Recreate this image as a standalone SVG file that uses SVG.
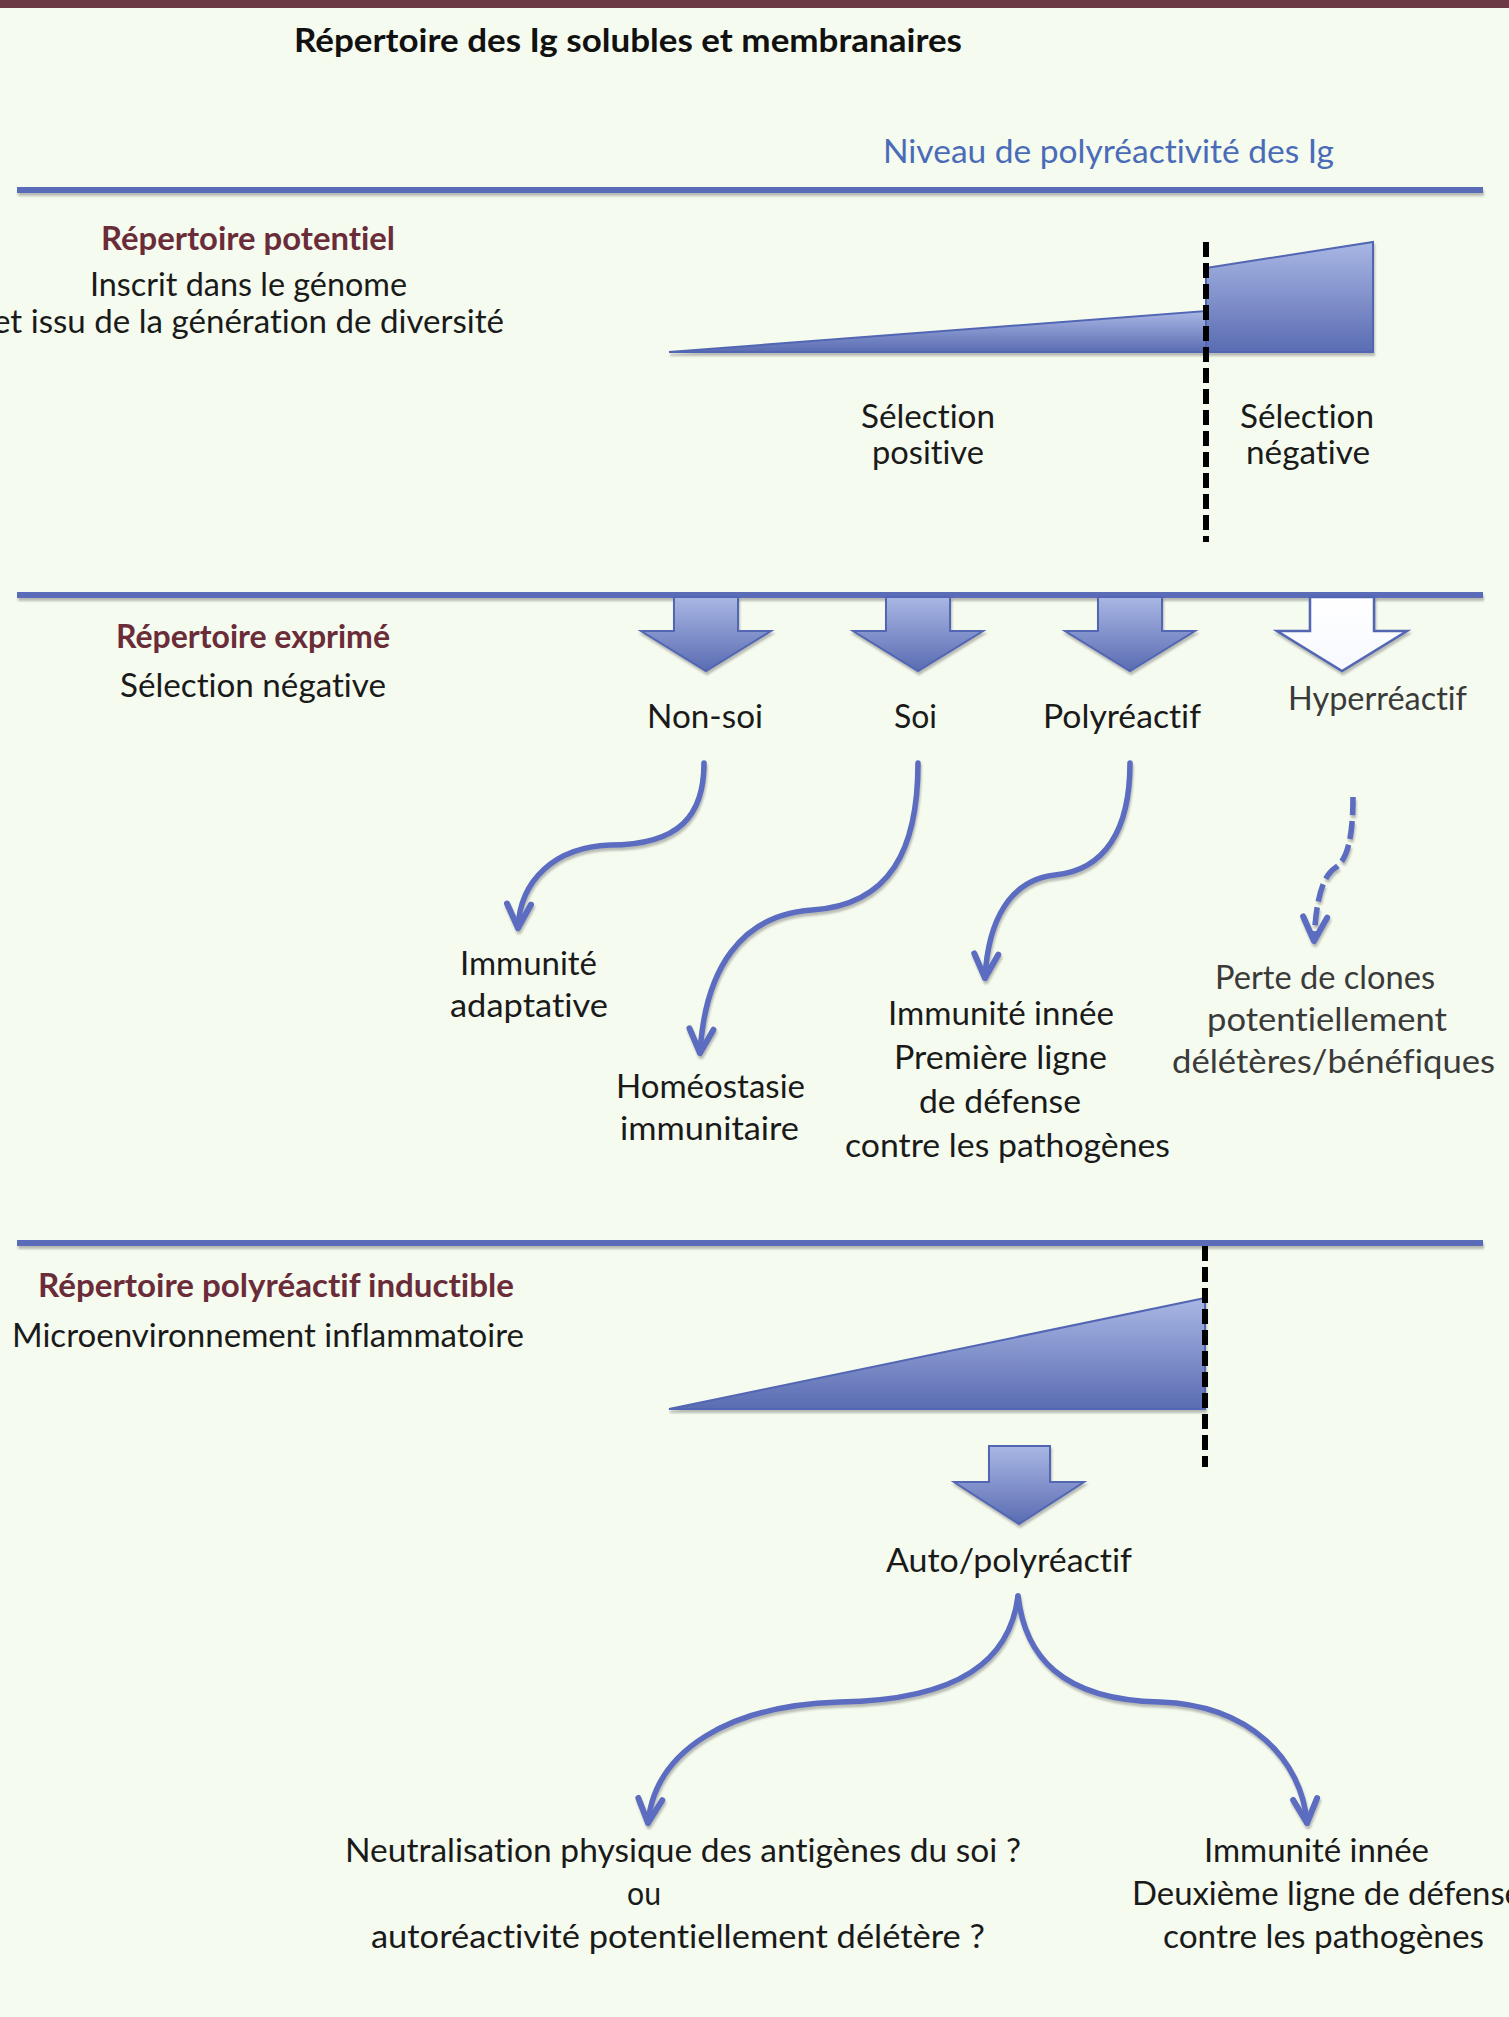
<svg xmlns="http://www.w3.org/2000/svg" width="1509" height="2017" viewBox="0 0 1509 2017">
<defs>
<style>
text{font-variant-ligatures:none}
.t{font-family:Lato,"Open Sans","Liberation Sans",sans-serif;font-size:33px;fill:#1a1a1a}
.g{fill:#3a3a3a}
.h{font-family:Lato,"Liberation Sans",sans-serif;font-size:32px;font-weight:bold;fill:#6b2c3a}
.ttl{font-family:Lato,"Liberation Sans",sans-serif;font-size:32px;font-weight:bold;fill:#111}
.bl{fill:#4a6bb8}
.sep{stroke:#5a6cb8;stroke-width:6;fill:none}
.dash{stroke:#000;stroke-width:6;stroke-dasharray:15 6;fill:none}
.wedge{fill:url(#gw);stroke:#5266b4;stroke-width:2}
.barr{fill:url(#gw);stroke:#5266b4;stroke-width:2;stroke-linejoin:miter}
.warr{fill:url(#gwh);stroke:#5266b4;stroke-width:2.5}
.cur{stroke:#5b6cc0;stroke-width:5.5;fill:none;stroke-linecap:round;marker-end:url(#ah)}
.curd{stroke:#5b6cc0;stroke-width:5.5;fill:none;stroke-dasharray:18 6;marker-end:url(#ah)}
</style>
<linearGradient id="gw" x1="0" y1="0" x2="0" y2="1">
<stop offset="0" stop-color="#a9b7e4"/>
<stop offset="1" stop-color="#5a6cb2"/>
</linearGradient>
<linearGradient id="gwh" x1="0" y1="0" x2="0" y2="1">
<stop offset="0" stop-color="#ffffff"/>
<stop offset="1" stop-color="#f7f9ff"/>
</linearGradient>
<filter id="sh" x="-10%" y="-10%" width="120%" height="130%">
<feDropShadow dx="1" dy="3" stdDeviation="1.2" flood-color="#707070" flood-opacity="0.45"/>
</filter>
<marker id="ah" markerUnits="userSpaceOnUse" markerWidth="60" markerHeight="60" refX="0" refY="0" orient="auto" viewBox="-30 -30 60 60" overflow="visible">
<path d="M-24,-12 L0,0 L-24,12" fill="none" stroke="#5b6cc0" stroke-width="6" stroke-linejoin="round" stroke-linecap="round"/>
</marker>
</defs>
<rect x="0" y="0" width="1509" height="2017" fill="#f5fbee"/>
<rect x="0" y="0" width="1509" height="8" fill="#6b3a45"/>

<g id="separators" filter="url(#sh)">
<line class="sep" x1="17" y1="190" x2="1483" y2="190"/>
<line class="sep" x1="17" y1="595" x2="1483" y2="595"/>
<line class="sep" x1="17" y1="1243" x2="1483" y2="1243"/>
</g>

<g id="title">
<text class="ttl" x="294" y="52" textLength="668" lengthAdjust="spacingAndGlyphs">Répertoire des Ig solubles et membranaires</text>
<text class="t bl" x="883" y="163" textLength="451" lengthAdjust="spacingAndGlyphs">Niveau de polyréactivité des Ig</text>
</g>

<g id="repertoire-potentiel">
<text class="h" x="101" y="250" textLength="294" lengthAdjust="spacingAndGlyphs">Répertoire potentiel</text>
<text class="t" x="90" y="296" textLength="317" lengthAdjust="spacingAndGlyphs">Inscrit dans le génome</text>
<text class="t" x="-7" y="333" textLength="511" lengthAdjust="spacingAndGlyphs">et issu de la génération de diversité</text>
</g>

<g id="wedge1" filter="url(#sh)">
<polygon class="wedge" points="669,352 1206,311 1206,352"/>
<polygon class="wedge" points="1206,268 1373,242 1373,352 1206,352"/>
</g>
<g id="cut1">
<line class="dash" x1="1206" y1="242" x2="1206" y2="542"/>
</g>
<g id="selection-positive">
<text class="t" x="861" y="428" textLength="134" lengthAdjust="spacingAndGlyphs">Sélection</text>
<text class="t" x="872" y="464" textLength="112" lengthAdjust="spacingAndGlyphs">positive</text>
</g>
<g id="selection-negative">
<text class="t" x="1240" y="428" textLength="134" lengthAdjust="spacingAndGlyphs">Sélection</text>
<text class="t" x="1246" y="464" textLength="124" lengthAdjust="spacingAndGlyphs">négative</text>
</g>

<g id="repertoire-exprime">
<text class="h" x="116" y="648" textLength="274" lengthAdjust="spacingAndGlyphs">Répertoire exprimé</text>
<text class="t" x="120" y="697" textLength="266" lengthAdjust="spacingAndGlyphs">Sélection négative</text>
</g>

<g id="block-arrows" filter="url(#sh)">
<polygon class="barr" points="674,597 674,631 641,631 706,671 771,631 738,631 738,597"/>
<polygon class="barr" points="886,597 886,631 853,631 918,671 983,631 950,631 950,597"/>
<polygon class="barr" points="1098,597 1098,631 1065,631 1130,671 1195,631 1162,631 1162,597"/>
<polygon class="warr" points="1310,597 1310,631 1277,631 1342,671 1407,631 1374,631 1374,597"/>
</g>

<g id="non-soi"><text class="t" x="647" y="728" textLength="116" lengthAdjust="spacingAndGlyphs">Non-soi</text></g>
<g id="soi"><text class="t" x="894" y="728" textLength="43" lengthAdjust="spacingAndGlyphs">Soi</text></g>
<g id="polyreactif"><text class="t" x="1043" y="728" textLength="158" lengthAdjust="spacingAndGlyphs">Polyréactif</text></g>
<g id="hyperreactif"><text class="t g" x="1288" y="710" textLength="179" lengthAdjust="spacingAndGlyphs">Hyperréactif</text></g>

<g id="connectors" filter="url(#sh)">
<path class="cur" d="M704,763 C704,815 680,845 610,845 C555,847 520,880 518,928"/>
<path class="cur" d="M918,763 C918,850 890,905 812,910 C740,915 705,970 700,1053"/>
<path class="cur" d="M1130,763 C1130,830 1105,870 1055,875 C1010,880 988,920 985,978"/>
<path class="curd" d="M1353,797 C1353,835 1348,860 1335,868 C1322,877 1316,900 1314,941"/>
<path class="cur" d="M1018,1596 C1010,1660 960,1700 840,1702 C730,1705 655,1750 648,1823"/>
<path class="cur" d="M1018,1596 C1025,1655 1060,1700 1160,1702 C1250,1705 1302,1760 1307,1823"/>
</g>

<g id="immunite-adaptative">
<text class="t" x="460" y="975" textLength="137" lengthAdjust="spacingAndGlyphs">Immunité</text>
<text class="t" x="450" y="1017" textLength="158" lengthAdjust="spacingAndGlyphs">adaptative</text>
</g>
<g id="homeostasie">
<text class="t" x="616" y="1098" textLength="189" lengthAdjust="spacingAndGlyphs">Homéostasie</text>
<text class="t" x="620" y="1140" textLength="179" lengthAdjust="spacingAndGlyphs">immunitaire</text>
</g>
<g id="immunite-innee-1">
<text class="t" x="888" y="1025" textLength="226" lengthAdjust="spacingAndGlyphs">Immunité innée</text>
<text class="t" x="894" y="1069" textLength="213" lengthAdjust="spacingAndGlyphs">Première ligne</text>
<text class="t" x="919" y="1113" textLength="162" lengthAdjust="spacingAndGlyphs">de défense</text>
<text class="t" x="845" y="1157" textLength="325" lengthAdjust="spacingAndGlyphs">contre les pathogènes</text>
</g>
<g id="perte-clones">
<text class="t g" x="1215" y="989" textLength="220" lengthAdjust="spacingAndGlyphs">Perte de clones</text>
<text class="t g" x="1207" y="1031" textLength="240" lengthAdjust="spacingAndGlyphs">potentiellement</text>
<text class="t g" x="1172" y="1073" textLength="323" lengthAdjust="spacingAndGlyphs">délétères/bénéfiques</text>
</g>

<g id="repertoire-inductible">
<text class="h" x="38" y="1297" textLength="476" lengthAdjust="spacingAndGlyphs">Répertoire polyréactif inductible</text>
<text class="t" x="12" y="1347" textLength="512" lengthAdjust="spacingAndGlyphs">Microenvironnement inflammatoire</text>
</g>

<g id="wedge3" filter="url(#sh)">
<polygon class="wedge" points="669,1409 1205,1298 1205,1409"/>
</g>
<g id="cut3">
<line class="dash" x1="1205" y1="1246" x2="1205" y2="1467"/>
</g>

<g id="block-arrow-auto" filter="url(#sh)">
<polygon class="barr" points="989,1446 989,1482 954,1482 1019,1524 1084,1482 1050,1482 1050,1446"/>
</g>
<g id="auto-polyreactif"><text class="t" x="886" y="1572" textLength="246" lengthAdjust="spacingAndGlyphs">Auto/polyréactif</text></g>

<g id="neutralisation">
<text class="t" x="345" y="1862" textLength="676" lengthAdjust="spacingAndGlyphs">Neutralisation physique des antigènes du soi ?</text>
<text class="t" x="627" y="1905" textLength="34" lengthAdjust="spacingAndGlyphs">ou</text>
<text class="t" x="371" y="1948" textLength="614" lengthAdjust="spacingAndGlyphs">autoréactivité potentiellement délétère ?</text>
</g>
<g id="immunite-innee-2">
<text class="t" x="1204" y="1862" textLength="225" lengthAdjust="spacingAndGlyphs">Immunité innée</text>
<text class="t" x="1132" y="1905" textLength="390" lengthAdjust="spacingAndGlyphs">Deuxième ligne de défense</text>
<text class="t" x="1163" y="1948" textLength="321" lengthAdjust="spacingAndGlyphs">contre les pathogènes</text>
</g>
</svg>
